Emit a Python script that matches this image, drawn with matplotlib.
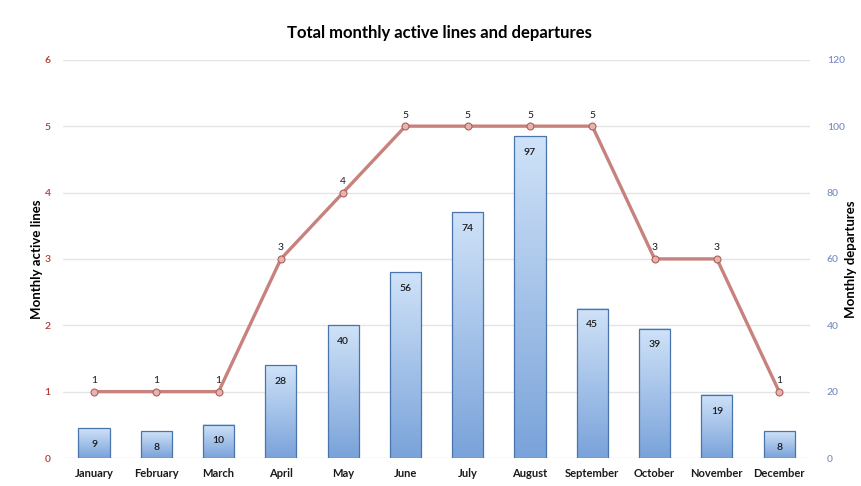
import matplotlib.pyplot as plt
import numpy as np
from matplotlib.colors import LinearSegmentedColormap

months = ['January', 'February', 'March', 'April', 'May', 'June', 'July',
          'August', 'September', 'October', 'November', 'December']
active_lines = [1, 1, 1, 3, 4, 5, 5, 5, 5, 3, 3, 1]
departures = [9, 8, 10, 28, 40, 56, 74, 97, 45, 39, 19, 8]

plt.rcParams['font.family'] = ['Lato', 'DejaVu Sans']

fig = plt.figure(figsize=(8.62, 4.86), dpi=100)
ax = fig.add_axes([0.073, 0.0576, 0.867, 0.8194])
ax2 = ax.twinx()

x = np.arange(len(months))
bw = 0.5
cmap = LinearSegmentedColormap.from_list('bl', ['#7aa3da', '#cfe2f8'])
grad = np.linspace(0, 1, 100).reshape(-1, 1)

bars = ax2.bar(x, departures, width=bw, color='none', edgecolor='#4a74ad',
               linewidth=0.9, zorder=3)
for b, v in zip(bars, departures):
    x0 = b.get_x()
    ax2.imshow(grad, cmap=cmap, aspect='auto', origin='lower',
               extent=(x0, x0 + bw, 0, v), zorder=2)
    ax2.text(b.get_x() + bw / 2, v - 3.5, str(v), ha='center', va='top',
             fontsize=7.5, fontweight='semibold', color='#1a1a1a', zorder=4)

ax.set_zorder(ax2.get_zorder() + 1)
ax.patch.set_visible(False)
ax2.patch.set_visible(True)

ax.plot(x, active_lines, color='#c8827d', lw=2.4, marker='o', ms=5,
        mfc='#e6b4b0', mec='#b0605b', mew=0.8, zorder=5)
for xi, v in zip(x, active_lines):
    ax.text(xi, v + 0.1, str(v), ha='center', va='bottom', fontsize=7.5,
            color='#1a1a1a')

ax.set_xlim(-0.5, 11.5)
ax2.set_xlim(-0.5, 11.5)
ax.set_ylim(0, 6)
ax2.set_ylim(0, 120)
ax.set_yticks(range(0, 7))
ax2.set_yticks(range(0, 121, 20))
ax2.yaxis.grid(True, color='#e4e4e4', lw=1)
ax2.set_axisbelow(True)

ax.set_xticks(x)
ax.set_xticklabels(months, fontsize=8, fontweight='bold', color='#1a1a1a')
ax.tick_params(axis='x', length=0, pad=7)
ax.tick_params(axis='y', length=0, labelsize=7.5, labelcolor='#b03a36', pad=9)
ax2.tick_params(axis='y', length=0, labelsize=7.5, labelcolor='#7f92c4', pad=12)
for lbl in ax.get_yticklabels() + ax2.get_yticklabels():
    lbl.set_fontweight('semibold')
for a in (ax, ax2):
    for s in a.spines.values():
        s.set_visible(False)

ax.set_ylabel('Monthly active lines', fontsize=9.5, fontweight='bold', labelpad=1)
ax2.set_ylabel('Monthly departures', fontsize=9.5, fontweight='bold', labelpad=0)
fig.suptitle('Total monthly active lines and departures', fontsize=12,
             fontweight='bold', x=0.51, y=0.948)

fig.savefig('out.png', dpi=100)
